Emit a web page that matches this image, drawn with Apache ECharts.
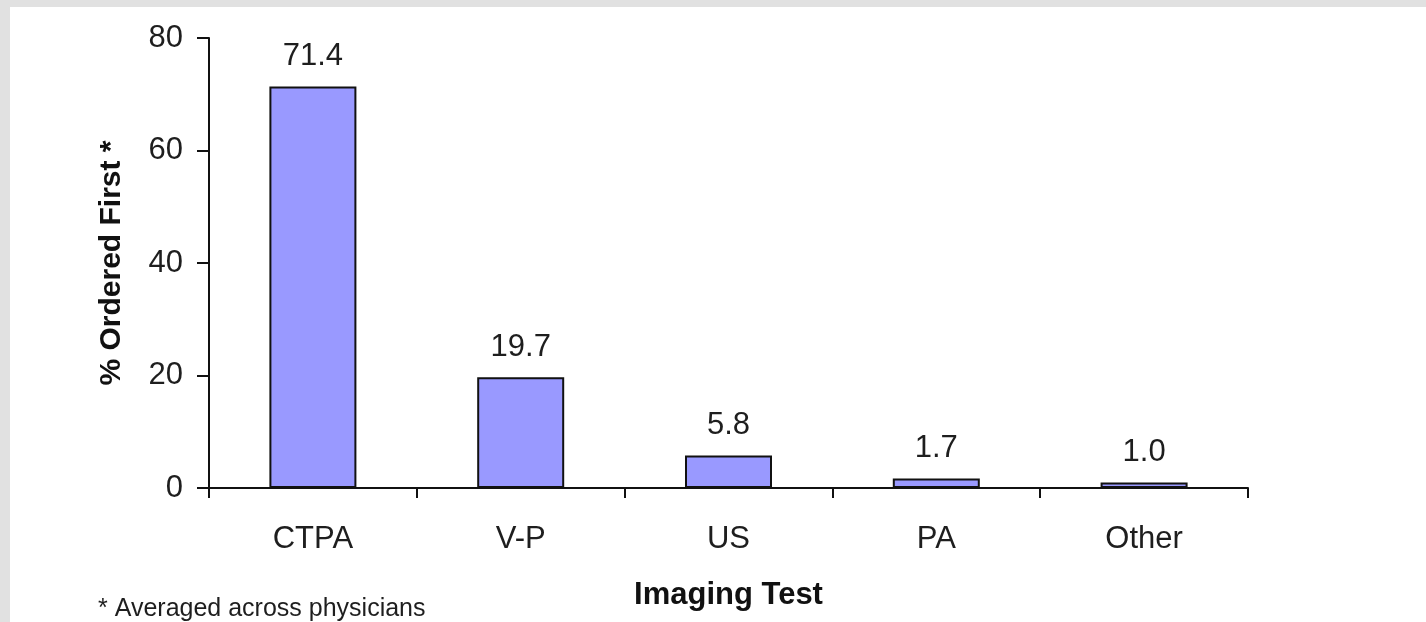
<!DOCTYPE html>
<html>
<head>
<meta charset="utf-8">
<script src="https://cdn.jsdelivr.net/npm/echarts@6/dist/echarts.min.js"></script>
<style>
  html, body { margin: 0; padding: 0; width: 1426px; height: 622px; overflow: hidden; background: #e1e1e1; }
  #panel { position: absolute; left: 10px; top: 7px; right: 0; bottom: 0; background: #ffffff; }
  #chart { position: absolute; left: 0; top: 0; width: 1426px; height: 622px; }
</style>
</head>
<body>
<div id="panel"></div>
<div id="chart"></div>
<script>
// Imaging test ordered first, share of orders (%)
const categories = ['CTPA', 'V-P', 'US', 'PA', 'Other'];
const percentOrderedFirst = [71.4, 19.7, 5.8, 1.7, 1.0];
const yTicks = [0, 20, 40, 60, 80];

const FONT = '"Liberation Sans", Arial, sans-serif';
const TEXT = '#1e1e1e';

const chart = echarts.init(document.getElementById('chart'), null, { renderer: 'canvas' });

chart.setOption({
  backgroundColor: 'transparent',
  animation: false,
  textStyle: { fontFamily: FONT },
  grid: { left: 209, top: 38, width: 1039, height: 450, containLabel: false, outerBoundsMode: 'none' },
  xAxis: {
    type: 'category',
    data: categories,
    boundaryGap: true,
    name: 'Imaging Test',
    nameLocation: 'middle',
    nameGap: 92,
    nameTextStyle: { fontFamily: FONT, fontSize: 31, fontWeight: 'bold', color: '#111' },
    axisLine: { show: true, lineStyle: { color: '#111', width: 2 } },
    axisTick: { show: true, inside: false, length: 10, alignWithLabel: false, lineStyle: { color: '#111', width: 2 } },
    axisLabel: { fontFamily: FONT, fontSize: 31, color: TEXT, margin: 36 },
    splitLine: { show: false }
  },
  yAxis: {
    type: 'value',
    min: yTicks[0],
    max: yTicks[yTicks.length - 1],
    interval: yTicks[1] - yTicks[0],
    name: '% Ordered First *',
    nameLocation: 'middle',
    nameGap: 82,
    nameRotate: 90,
    nameTextStyle: { fontFamily: FONT, fontSize: 30, fontWeight: 'bold', color: '#111' },
    axisLine: { show: true, lineStyle: { color: '#111', width: 2 } },
    axisTick: { show: true, inside: false, length: 12, lineStyle: { color: '#111', width: 2 } },
    axisLabel: { fontFamily: FONT, fontSize: 31, color: TEXT, margin: 26 },
    splitLine: { show: false }
  },
  series: [{
    type: 'bar',
    data: percentOrderedFirst,
    barWidth: 87,
    itemStyle: { color: '#9999ff', borderColor: '#111', borderWidth: 2 },
    label: {
      show: true,
      position: 'top',
      distance: 14,
      fontFamily: FONT,
      fontSize: 31,
      color: TEXT,
      formatter: p => p.value.toFixed(1)
    }
  }],
  graphic: [{
    type: 'text',
    left: 98,
    top: 597,
    style: {
      text: '* Averaged across physicians',
      font: '25px ' + FONT,
      fill: TEXT
    }
  }]
});
</script>
</body>
</html>
